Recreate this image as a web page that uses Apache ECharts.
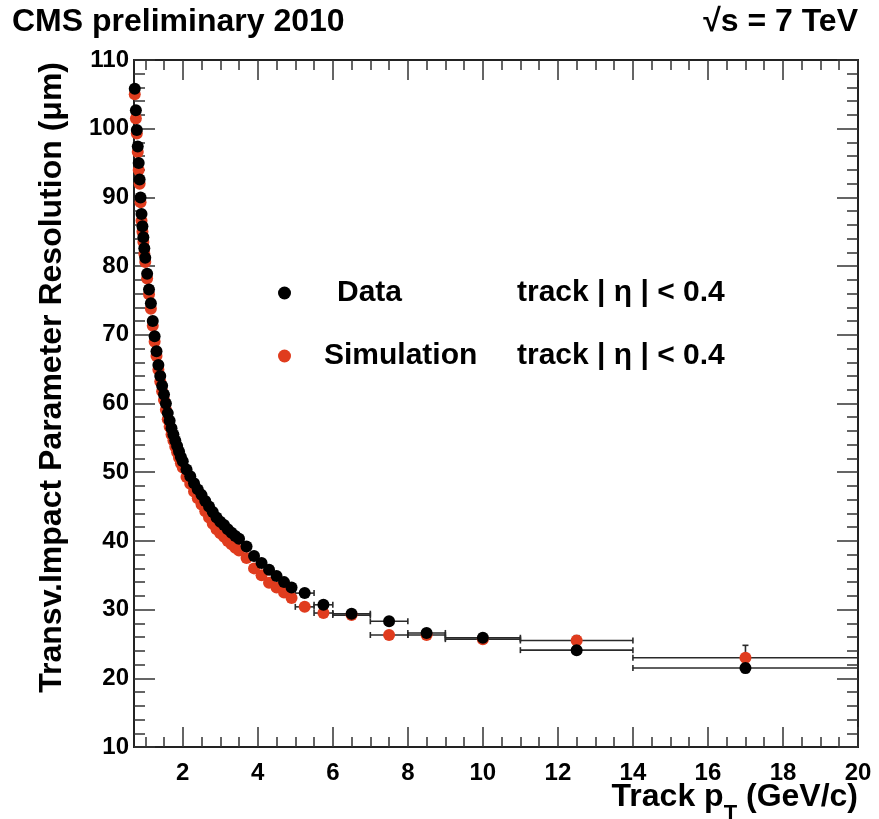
<!DOCTYPE html>
<html><head><meta charset="utf-8">
<script src="https://cdn.jsdelivr.net/npm/echarts@6/dist/echarts.min.js"></script>
<style>html,body{margin:0;padding:0;background:#fff}#c{width:879px;height:819px}</style>
</head><body><div id="c"></div>
<script>
// ---- data ----
const ptCenters = [
  0.72, 0.75, 0.775, 0.80, 0.825, 0.85, 0.875, 0.90, 0.925, 0.95, 0.975, 1.0,
  1.05, 1.1, 1.15, 1.2, 1.25, 1.3, 1.35, 1.4, 1.45, 1.5, 1.55, 1.6, 1.65, 1.7, 1.75, 1.8, 1.85, 1.9, 1.95, 2.0,
  2.1, 2.2, 2.3, 2.4, 2.5, 2.6, 2.7, 2.8, 2.9, 3.0, 3.1, 3.2, 3.3, 3.4, 3.5,
  3.7, 3.9, 4.1, 4.3, 4.5, 4.7, 4.9,
  5.25, 5.75, 6.5, 7.5, 8.5, 10, 12.5, 17
];
const dataRes = [
  105.8, 102.7, 99.8, 97.4, 95.0, 92.6, 90.0, 87.6, 85.8, 84.2, 82.6, 81.2,
  78.9, 76.6, 74.6, 72.0, 69.8, 67.6, 65.6, 64.0, 62.6, 61.3, 60.0, 58.6, 57.5, 56.4, 55.5, 54.6, 53.8, 53.0, 52.2, 51.6,
  50.4, 49.4, 48.4, 47.5, 46.7, 45.8, 45.0, 44.2, 43.4, 42.8, 42.3, 41.7, 41.2, 40.7, 40.3,
  39.2, 37.8, 36.8, 35.8, 34.9, 34.0, 33.2,
  32.4, 30.7, 29.4, 28.3, 26.6, 25.9, 24.1, 21.5
];
const simRes = [
  105.0, 101.5, 99.3, 96.6, 94.0, 92.0, 89.3, 86.6, 85.0, 83.5, 81.8, 80.6,
  78.2, 75.9, 73.8, 71.3, 69.0, 66.9, 64.9, 63.2, 61.8, 60.5, 59.1, 57.7, 56.6, 55.5, 54.6, 53.7, 52.9, 52.1, 51.3, 50.7,
  49.3, 48.3, 47.2, 46.2, 45.3, 44.3, 43.4, 42.5, 41.7, 41.1, 40.6, 40.0, 39.5, 39.0, 38.6,
  37.5, 36.0, 35.0, 33.9, 33.2, 32.5, 31.7,
  30.4, 29.5, 29.2, 26.3, 26.3, 25.7, 25.5, 23.0
];
const wideBinLo = [5, 5.5, 6, 7, 8, 9, 11, 14];
const wideBinHi = [5.5, 6, 7, 8, 9, 11, 14, 20];
const wideBinCenter = [5.25, 5.75, 6.5, 7.5, 8.5, 10, 12.5, 17];
const dataErrY = [0.3, 0.3, 0.4, 0.4, 0.4, 0.4, 0.6, 0.7];
const simErrY = [0.3, 0.3, 0.3, 0.4, 0.4, 0.5, 0.7, 1.8];
const xMajorTicks = [2, 4, 6, 8, 10, 12, 14, 16, 18, 20];
const xMinorTicks = [1, 1.5, 2.5, 3, 3.5, 4.5, 5, 5.5, 6.5, 7, 7.5, 8.5, 9, 9.5, 10.5, 11, 11.5,
  12.5, 13, 13.5, 14.5, 15, 15.5, 16.5, 17, 17.5, 18.5, 19, 19.5];

const FF = '"Liberation Sans", Arial, Helvetica, sans-serif';
const RED = '#e03c1e';

function pairs(ys) { return ptCenters.map((x, i) => [x, ys[i]]); }
function errRows(ys, errs) {
  return wideBinCenter.map((c, i) => {
    const y = ys[ptCenters.indexOf(c)];
    return [wideBinLo[i], wideBinHi[i], y, errs[i], c];
  });
}
function renderErr(params, api) {
  const lo = api.value(0), hi = api.value(1), y = api.value(2), e = api.value(3), c = api.value(4);
  const p1 = api.coord([lo, y]), p2 = api.coord([hi, y]);
  const pu = api.coord([c, y + e]), pd = api.coord([c, y - e]);
  const st = { stroke: '#2a2a2a', lineWidth: 1.6 };
  const cap = 3;
  return {
    type: 'group',
    children: [
      { type: 'line', shape: { x1: p1[0], y1: p1[1], x2: p2[0], y2: p2[1] }, style: st },
      { type: 'line', shape: { x1: p1[0], y1: p1[1] - cap, x2: p1[0], y2: p1[1] + cap }, style: st },
      { type: 'line', shape: { x1: p2[0], y1: p2[1] - cap, x2: p2[0], y2: p2[1] + cap }, style: st },
      { type: 'line', shape: { x1: pu[0], y1: pu[1], x2: pd[0], y2: pd[1] }, style: st },
      { type: 'line', shape: { x1: pu[0] - cap, y1: pu[1], x2: pu[0] + cap, y2: pu[1] }, style: st },
      { type: 'line', shape: { x1: pd[0] - cap, y1: pd[1], x2: pd[0] + cap, y2: pd[1] }, style: st }
    ]
  };
}

const axLine = { show: true, onZero: false, lineStyle: { color: '#222', width: 2 } };
const tickStyle = { color: '#333', width: 1.5 };
function xAx(pos, ticks, len, labels) {
  return {
    type: 'value', min: 0.7, max: 20, position: pos,
    axisLine: axLine,
    axisTick: { show: true, inside: true, length: len, customValues: ticks, lineStyle: tickStyle },
    axisLabel: labels ? { show: true, customValues: ticks, fontSize: 24, fontWeight: 'bold', color: '#000', fontFamily: FF, margin: 14 } : { show: false },
    splitLine: { show: false }
  };
}
function yAx(pos, labels) {
  return {
    type: 'value', min: 10, max: 110, interval: 10, position: pos,
    axisLine: axLine,
    axisTick: { show: true, inside: true, length: 21, lineStyle: tickStyle },
    minorTick: { show: true, splitNumber: 5, length: 11, lineStyle: tickStyle },
    axisLabel: labels ? { show: true, fontSize: 24, fontWeight: 'bold', color: '#000', fontFamily: FF, margin: 5 } : { show: false },
    splitLine: { show: false }, minorSplitLine: { show: false }
  };
}

const chart = echarts.init(document.getElementById('c'), null, { renderer: 'canvas' });
chart.setOption({
  animation: false,
  backgroundColor: '#fff',
  grid: { left: 134, right: 21, top: 60, bottom: 72, containLabel: false },
  xAxis: [
    xAx('bottom', xMajorTicks, 20, true),
    xAx('bottom', xMinorTicks, 10, false),
    xAx('top', xMajorTicks, 20, false),
    xAx('top', xMinorTicks, 10, false)
  ],
  yAxis: [yAx('left', true), yAx('right', false)],
  legend: {
    left: 278, top: 277, orient: 'vertical', padding: 0, itemGap: 31,
    itemWidth: 13, itemHeight: 13, icon: 'circle',
    data: ['Data', 'Simulation'],
    textStyle: { fontSize: 30, fontWeight: 'bold', color: '#000', fontFamily: FF, lineHeight: 32,
      rich: {
        d: { fontSize: 30, fontWeight: 'bold', fontFamily: FF, width: 180, padding: [0, 0, 0, 41] },
        s: { fontSize: 30, fontWeight: 'bold', fontFamily: FF, width: 193, padding: [0, 0, 0, 28] },
        t: { fontSize: 30, fontWeight: 'bold', fontFamily: FF }
      } },
    formatter: function (name) {
      return name === 'Data' ? '{d|Data}{t|track | η | < 0.4}' : '{s|Simulation}{t|track | η | < 0.4}';
    }
  },
  series: [
    { name: 'simErr', type: 'custom', renderItem: renderErr, data: errRows(simRes, simErrY), z: 1, silent: true,
      encode: { x: [0, 1], y: 2 } },
    { name: 'dataErr', type: 'custom', renderItem: renderErr, data: errRows(dataRes, dataErrY), z: 1, silent: true,
      encode: { x: [0, 1], y: 2 } },
    { name: 'Simulation', type: 'scatter', data: pairs(simRes), symbol: 'circle', symbolSize: 12,
      itemStyle: { color: RED, opacity: 1 }, z: 2 },
    { name: 'Data', type: 'scatter', data: pairs(dataRes), symbol: 'circle', symbolSize: 12,
      itemStyle: { color: '#000', opacity: 1 }, z: 3 }
  ],
  graphic: [
    { type: 'text', left: 12, top: 6, style: { text: 'CMS preliminary 2010', font: 'bold 32px ' + FF, fill: '#000' } },
    { type: 'text', right: 21, top: 6, style: { text: '√s = 7 TeV', font: 'bold 32px ' + FF, fill: '#000' } },
    { type: 'text', x: 52, y: 62, rotation: Math.PI / 2,
      style: { text: 'Transv.Impact Parameter Resolution (μm)', font: 'bold 32px ' + FF, fill: '#000', align: 'right', verticalAlign: 'middle' } },
    { type: 'text', right: 21, top: 781,
      style: { text: '{a|Track p}{b|T}{a| (GeV/c)}', fill: '#000',
        rich: {
          a: { fontSize: 32, fontWeight: 'bold', fontFamily: FF, lineHeight: 56 },
          b: { fontSize: 22, fontWeight: 'bold', fontFamily: FF, lineHeight: 22, verticalAlign: 'bottom' }
        } } }
  ]
});
</script></body></html>
